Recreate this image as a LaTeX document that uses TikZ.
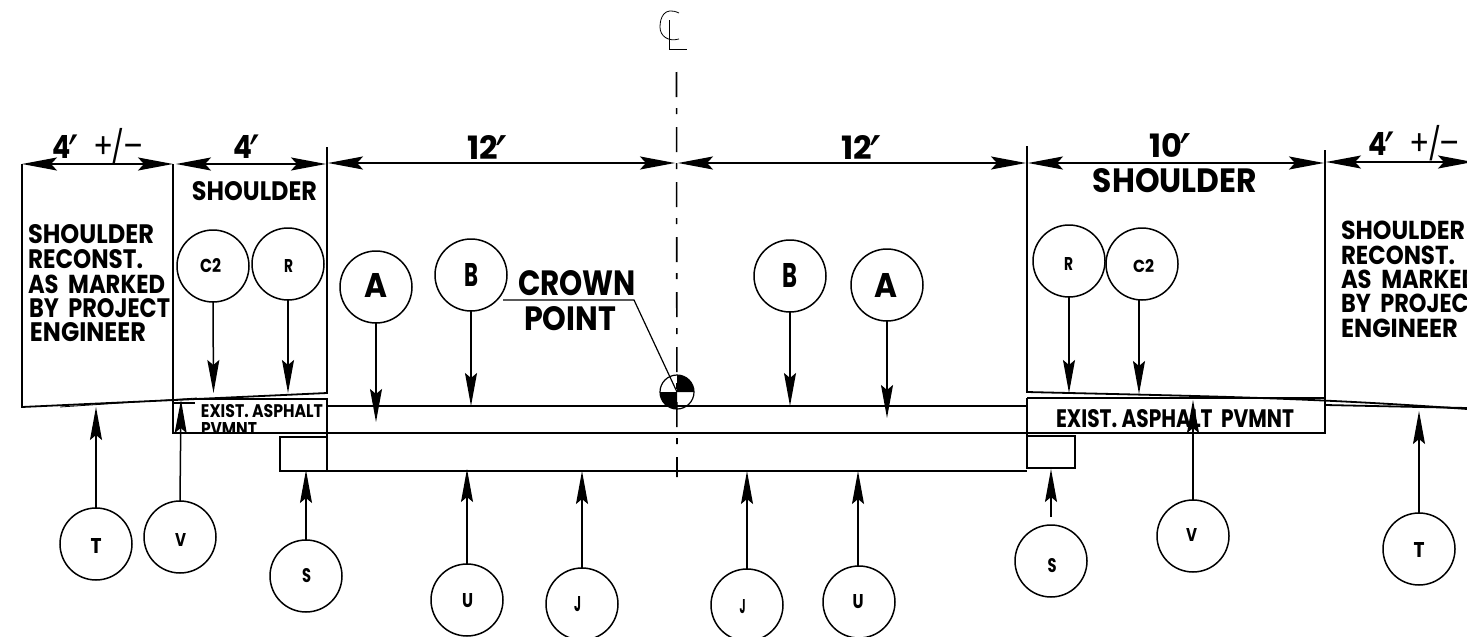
\documentclass[tikz,border=0pt]{standalone}
\usepackage{graphicx}
\usepackage{fontspec}
\setmainfont{Poppins}
\newfontfamily\primefont{DejaVu Sans}
\usetikzlibrary{arrows.meta}
% fitted text: width, height
\newcommand\fitt[3]{\resizebox{#1pt}{#2pt}{\bfseries #3}}
% circle label: width, height, dx, dy(up), text
\newcommand\cl[5]{\hspace*{#3pt}\hspace*{#3pt}\smash{\raisebox{\dimexpr #4pt-#2pt/2\relax}{\fitt{#1}{#2}{#5}}}}
\newcommand\primemark{\kern-.08em\smash{\raisebox{-.5em}{\scalebox{1.7}{\primefont\mdseries ′}}}\kern-.05em}
\newcommand\plusminus{\mdseries\kern.15em\scalebox{1.1}{+}\kern-.05em\smash{/}\kern-.05em\scalebox{1.1}{–}}
\tikzset{
  ln/.style={line width=1.8pt,black},
  thin line/.style={line width=.8pt,black},
  cir/.style={circle,draw,line width=1.5pt,minimum size=72pt,inner sep=0pt,outer sep=0pt},
  lab/.style={inner sep=0pt,outer sep=0pt,anchor=center},
  labl/.style={inner sep=0pt,outer sep=0pt,anchor=west},
  arr/.style={line width=1.5pt,-{Stealth[length=33pt,width=12pt,inset=5pt]}},
  dim/.style={ln,{Stealth[length=35pt,width=13pt,inset=6pt]}-{Stealth[length=35pt,width=13pt,inset=6pt]}},
  cline/.style={line width=1.6pt,dash pattern=on 25pt off 11pt on 6pt off 13pt},
}
\begin{document}
\begin{tikzpicture}[x=1pt,y=-1pt]
\clip (0,0) rectangle (1467,637);
\fill[white] (0,0) rectangle (1467,637);
% road section
\draw[ln] (22,164) -- (22,407) -- (327,393) -- (327,147);
\draw[ln] (173,164) -- (173,433) -- (1325,433) -- (1325,150);
\draw[thin line] (60,407) -- (197,398);
\draw[ln] (195,399) -- (327,399) -- (327,471) -- (280,471) -- (280,437) -- (327,437);
\draw[ln] (173,403) -- (195,403);
\draw[ln] (327,406) -- (1027,406);
\draw[ln] (327,471) -- (1027,471);
\draw[ln] (1027,146) -- (1027,392) .. controls (1190,396) and (1300,397) .. (1467,409);
\draw[ln] (1027,398) -- (1325,398);
\draw[ln] (1027,398) -- (1027,468) -- (1075,468) -- (1075,436) -- (1027,436);
\draw[ln] (1325,405) -- (1467,408);
% centre line
\draw[cline] (676.5,72) -- (677,477);
\draw[thin line] (679,13) .. controls (664,6) and (660,18) .. (660,27) .. controls (660,36) and (668,42) .. (679,39);
\draw[thin line] (669,20) -- (669,49) -- (687,49);
% crown point
\coordinate (cp) at (677,392);
\fill (cp) -- ++(0,-17) arc (-90:0:17) -- cycle;
\fill (cp) -- ++(0,17) arc (90:180:17) -- cycle;
\node[circle,draw,line width=1.2pt,minimum size=34pt,inner sep=0pt] (crown) at (cp) {};
\coordinate (lead0) at (503,300);
\coordinate (lead1) at (634,300);
\draw[line width=1.2pt] (lead0) -- (lead1) -- (cp);
\node[lab] (tcrown) at (577,283) {\fitt{118}{25}{CROWN}};
\node[lab] (tpoint) at (570,319) {\fitt{92}{24}{POINT}};
% dimensions
\coordinate (d0) at (22,164);\coordinate (d1) at (173,164);
\coordinate (d2) at (176,164);\coordinate (d3) at (326,164);
\coordinate (d4) at (328,163);\coordinate (d5) at (675,163);
\coordinate (d6) at (678,163);\coordinate (d7) at (1026,163);
\coordinate (d8) at (1028,163);\coordinate (d9) at (1324,163);
\coordinate (d10) at (1326,162);\coordinate (d11) at (1473,162);
\draw[dim] (d0) -- (d1);
\draw[dim] (d2) -- (d3);
\draw[dim] (d4) -- (d5);
\draw[dim] (d6) -- (d7);
\draw[dim] (d8) -- (d9);
\draw[dim] (d10) -- (d11);
\node[lab] (w1) at (98,147) {\fitt{91}{23}{4\primemark\ \ \plusminus}};
\node[lab] (w2) at (246,147) {\fitt{26}{23}{4\primemark}};
\node[lab] (w3) at (487,147) {\fitt{39}{24}{12\primemark}};
\node[lab] (w4) at (861,147) {\fitt{39}{24}{12\primemark}};
\node[lab] (w5) at (1170,145.5) {\fitt{41}{24}{10\primemark}};
\node[lab] (w6) at (1414,144) {\fitt{92}{23}{4\primemark\ \ \plusminus}};
\node[lab] (s1) at (254.5,191.5) {\fitt{125}{19}{SHOULDER}};
\node[lab] (s2) at (1175,181) {\fitt{164}{24}{SHOULDER}};
% note left
\node[labl] (n1) at (28,234.5) {\fitt{126}{19}{SHOULDER}};
\node[labl] (n2) at (28,259.5) {\fitt{115}{19}{RECONST.}};
\node[labl] (n3) at (28,284) {\fitt{137}{18.5}{AS\ \ MARKED}};
\node[labl] (n4) at (29,308.5) {\fitt{141}{19}{BY\ \ PROJECT}};
\node[labl] (n5) at (30,332.5) {\fitt{116}{19}{ENGINEER}};
% note right
\node[labl] (m1) at (1341,230) {\fitt{124}{18.5}{SHOULDER}};
\node[labl] (m2) at (1341,255) {\fitt{114}{18.5}{RECONST.}};
\node[labl] (m3) at (1341,279.5) {\fitt{137}{18.5}{AS\ \ MARKED}};
\node[labl] (m4) at (1341,303.5) {\fitt{141}{18.5}{BY\ \ PROJECT}};
\node[labl] (m5) at (1341,328) {\fitt{117}{18.5}{ENGINEER}};
% existing pavement
\node[lab] (e1) at (262,411.5) {\fitt{122}{13}{EXIST. ASPHALT}};
\begin{scope}
\clip (190,415) rectangle (320,433);
\node[lab] (e2) at (229,429) {\fitt{56}{13}{PVMNT}};
\end{scope}
\node[lab] (e3) at (1175,419) {\fitt{238}{18}{EXIST. ASPHALT\ \ PVMNT}};
% circles
\node[cir] (c2l) at (213,266) {\cl{21}{14}{-2.5}{1}{C2}};
\node[cir] (rl) at (288,264) {\cl{9}{13}{0.5}{-1.5}{R}};
\node[cir] (al) at (376,287) {\cl{23}{24}{-0.5}{2}{A}};
\node[cir] (bl) at (471,275) {\cl{14}{23}{0}{0}{B}};
\node[cir] (br) at (790,276) {\cl{15}{24}{-0.5}{1}{B}};
\node[cir] (ar) at (887,285) {\cl{23}{24}{-1.5}{0}{A}};
\node[cir] (rr) at (1069,261) {\cl{9}{13}{-0.5}{-2.5}{R}};
\node[cir] (c2r) at (1142,264) {\cl{21}{13}{1.5}{-2}{C2}};
\node[cir] (tl) at (96,544) {\cl{11}{15}{0}{-2}{T}};
\node[cir] (vl) at (180,537) {\cl{11}{13}{0.5}{-3}{V}};
\node[cir] (sl) at (306,576) {\cl{9}{14}{0.5}{1}{S}};
\node[cir] (ul) at (467,600) {\cl{11}{14}{0.5}{0}{U}};
\node[cir] (jl) at (582,604) {\cl{7}{15}{-4.5}{0}{J}};
\node[cir] (jr) at (747,605) {\cl{6}{14}{-4.5}{-1}{J}};
\node[cir] (ur) at (859,602) {\cl{11}{14}{-1}{1}{U}};
\node[cir] (sr) at (1051,561) {\cl{9}{14}{1}{-4}{S}};
\node[cir] (vr) at (1193,536) {\cl{11}{13}{-1.5}{1.5}{V}};
\node[cir] (tr) at (1419,549) {\cl{11}{15}{0}{-1}{T}};
% arrow ends
\coordinate (pc2l) at (213.5,393);
\coordinate (prl) at (288,393);
\coordinate (pal) at (376,422);
\coordinate (pbl) at (471,406);
\coordinate (pbr) at (790,406);
\coordinate (par) at (887,418);
\coordinate (prr) at (1069,393);
\coordinate (pc2r) at (1139,394);
\coordinate (ptl) at (96,407);
\coordinate (pvl) at (181,400);
\coordinate (psl) at (306,470);
\coordinate (pul) at (467,469);
\coordinate (pjl) at (582,471);
\coordinate (pjr) at (747,471);
\coordinate (pur) at (858,471);
\coordinate (psr) at (1051,469);
\coordinate (pvr) at (1193,400);
\coordinate (ptr) at (1419,411);
\coordinate (ssr) at (1051,517);
\draw[arr] (c2l.south) -- (pc2l);
\draw[arr] (rl.south) -- (prl);
\draw[arr] (al.south) -- (pal);
\draw[arr] (bl.south) -- (pbl);
\draw[arr] (br.south) -- (pbr);
\draw[arr] (ar.south) -- (par);
\draw[arr] (rr.south) -- (prr);
\draw[arr] (c2r.south -| pc2r) -- (pc2r);
\draw[arr] (tl.north) -- (ptl);
\draw[arr] (vl.north) -- (pvl);
\draw[arr] (sl.north) -- (psl);
\draw[arr] (ul.north) -- (pul);
\draw[arr] (jl.north) -- (pjl);
\draw[arr] (jr.north) -- (pjr);
\draw[arr] (ur.north -| pur) -- (pur);
\draw[arr] (ssr) -- (psr);
\draw[arr] (vr.north) -- (pvr);
\draw[arr] (tr.north) -- (ptr);
\end{tikzpicture}
\end{document}
